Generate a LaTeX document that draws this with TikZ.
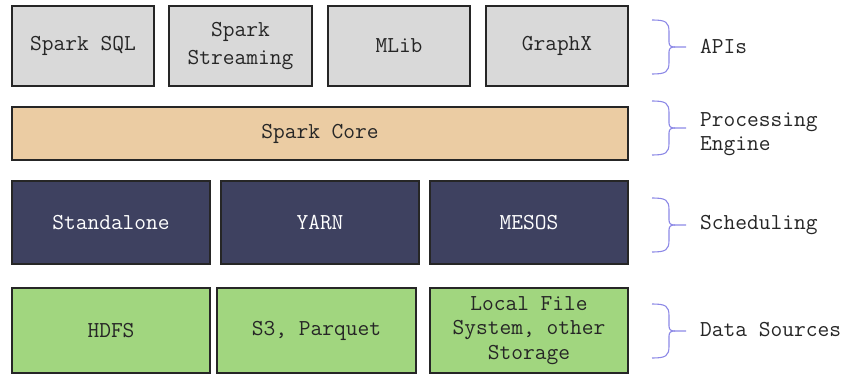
\documentclass[tikz,border=0pt]{standalone}
\begin{document}
\begin{tikzpicture}[x=1pt,y=-1pt,
  every node/.style={font=\ttfamily\fontsize{22.8}{24.5}\selectfont},
  box/.style={draw=black!85, line width=1.3pt, text=black!85, align=center, inner sep=0pt},
  api/.style={box, fill=apigray},
  core/.style={box, fill=coretan},
  sched/.style={box, fill=schednavy, text=white},
  data/.style={box, fill=datagreen},
  lbl/.style={anchor=west, align=left, text=black!85, inner sep=0pt},
  bracepath/.style={draw=bracecol, line width=1.1pt},
  lbrace/.pic={
    \draw[bracepath] (-17,-27) .. controls (-3,-27) and (0,-25) .. (0,-15) -- (0,-5)
      .. controls (0,-1) and (2,0) .. (6,0) -- (17,0);
    \draw[bracepath] (6,0) .. controls (2,0) and (0,1) .. (0,5) -- (0,15)
      .. controls (0,25) and (-3,27) .. (-17,27);
  }]
\definecolor{apigray}{HTML}{D9D9D9}
\definecolor{coretan}{HTML}{EBCCA3}
\definecolor{schednavy}{HTML}{3E4160}
\definecolor{datagreen}{HTML}{A1D67F}
\definecolor{bracecol}{HTML}{8C88E6}
\useasboundingbox (0,0) rectangle (848,374);
% APIs
\node[api, minimum width=142pt, minimum height=80pt] (sql) at (83,46) {Spark SQL};
\node[api, minimum width=143pt, minimum height=80pt] (stream) at (240.5,46) {Spark\\[3pt]Streaming};
\node[api, minimum width=142pt, minimum height=80pt] (mlib) at (399,46) {MLib};
\node[api, minimum width=142pt, minimum height=80pt] (graphx) at (557,46) {GraphX};
% Core
\node[core, minimum width=616pt, minimum height=53pt] (core) at (320,133.5) {Spark Core};
% Scheduling
\node[sched, minimum width=198pt, minimum height=83pt] (standalone) at (111,222.5) {Standalone};
\node[sched, minimum width=198pt, minimum height=83pt] (yarn) at (320,222.5) {YARN};
\node[sched, minimum width=198pt, minimum height=83pt] (mesos) at (529,222.5) {MESOS};
% Data
\node[data, minimum width=198pt, minimum height=85pt] (hdfs) at (111,330.5) {HDFS};
\node[data, minimum width=199pt, minimum height=85pt] (s3) at (316.5,330.5) {S3, Parquet};
\node[data, minimum width=198pt, minimum height=85pt] (local) at (529,330.5) {Local File\\System, other\\Storage};
% Braces and labels
\pic at (669,47) {lbrace};
\pic at (669,128) {lbrace};
\pic at (669,225) {lbrace};
\pic at (669,331) {lbrace};
\node[lbl] (apis) at (700,46) {APIs};
\node[lbl] (proc) at (700,134) {Processing\\Engine};
\node[lbl] (schedl) at (700,225) {Scheduling};
\node[lbl] (datal) at (700,330) {Data Sources};
\end{tikzpicture}
\end{document}
